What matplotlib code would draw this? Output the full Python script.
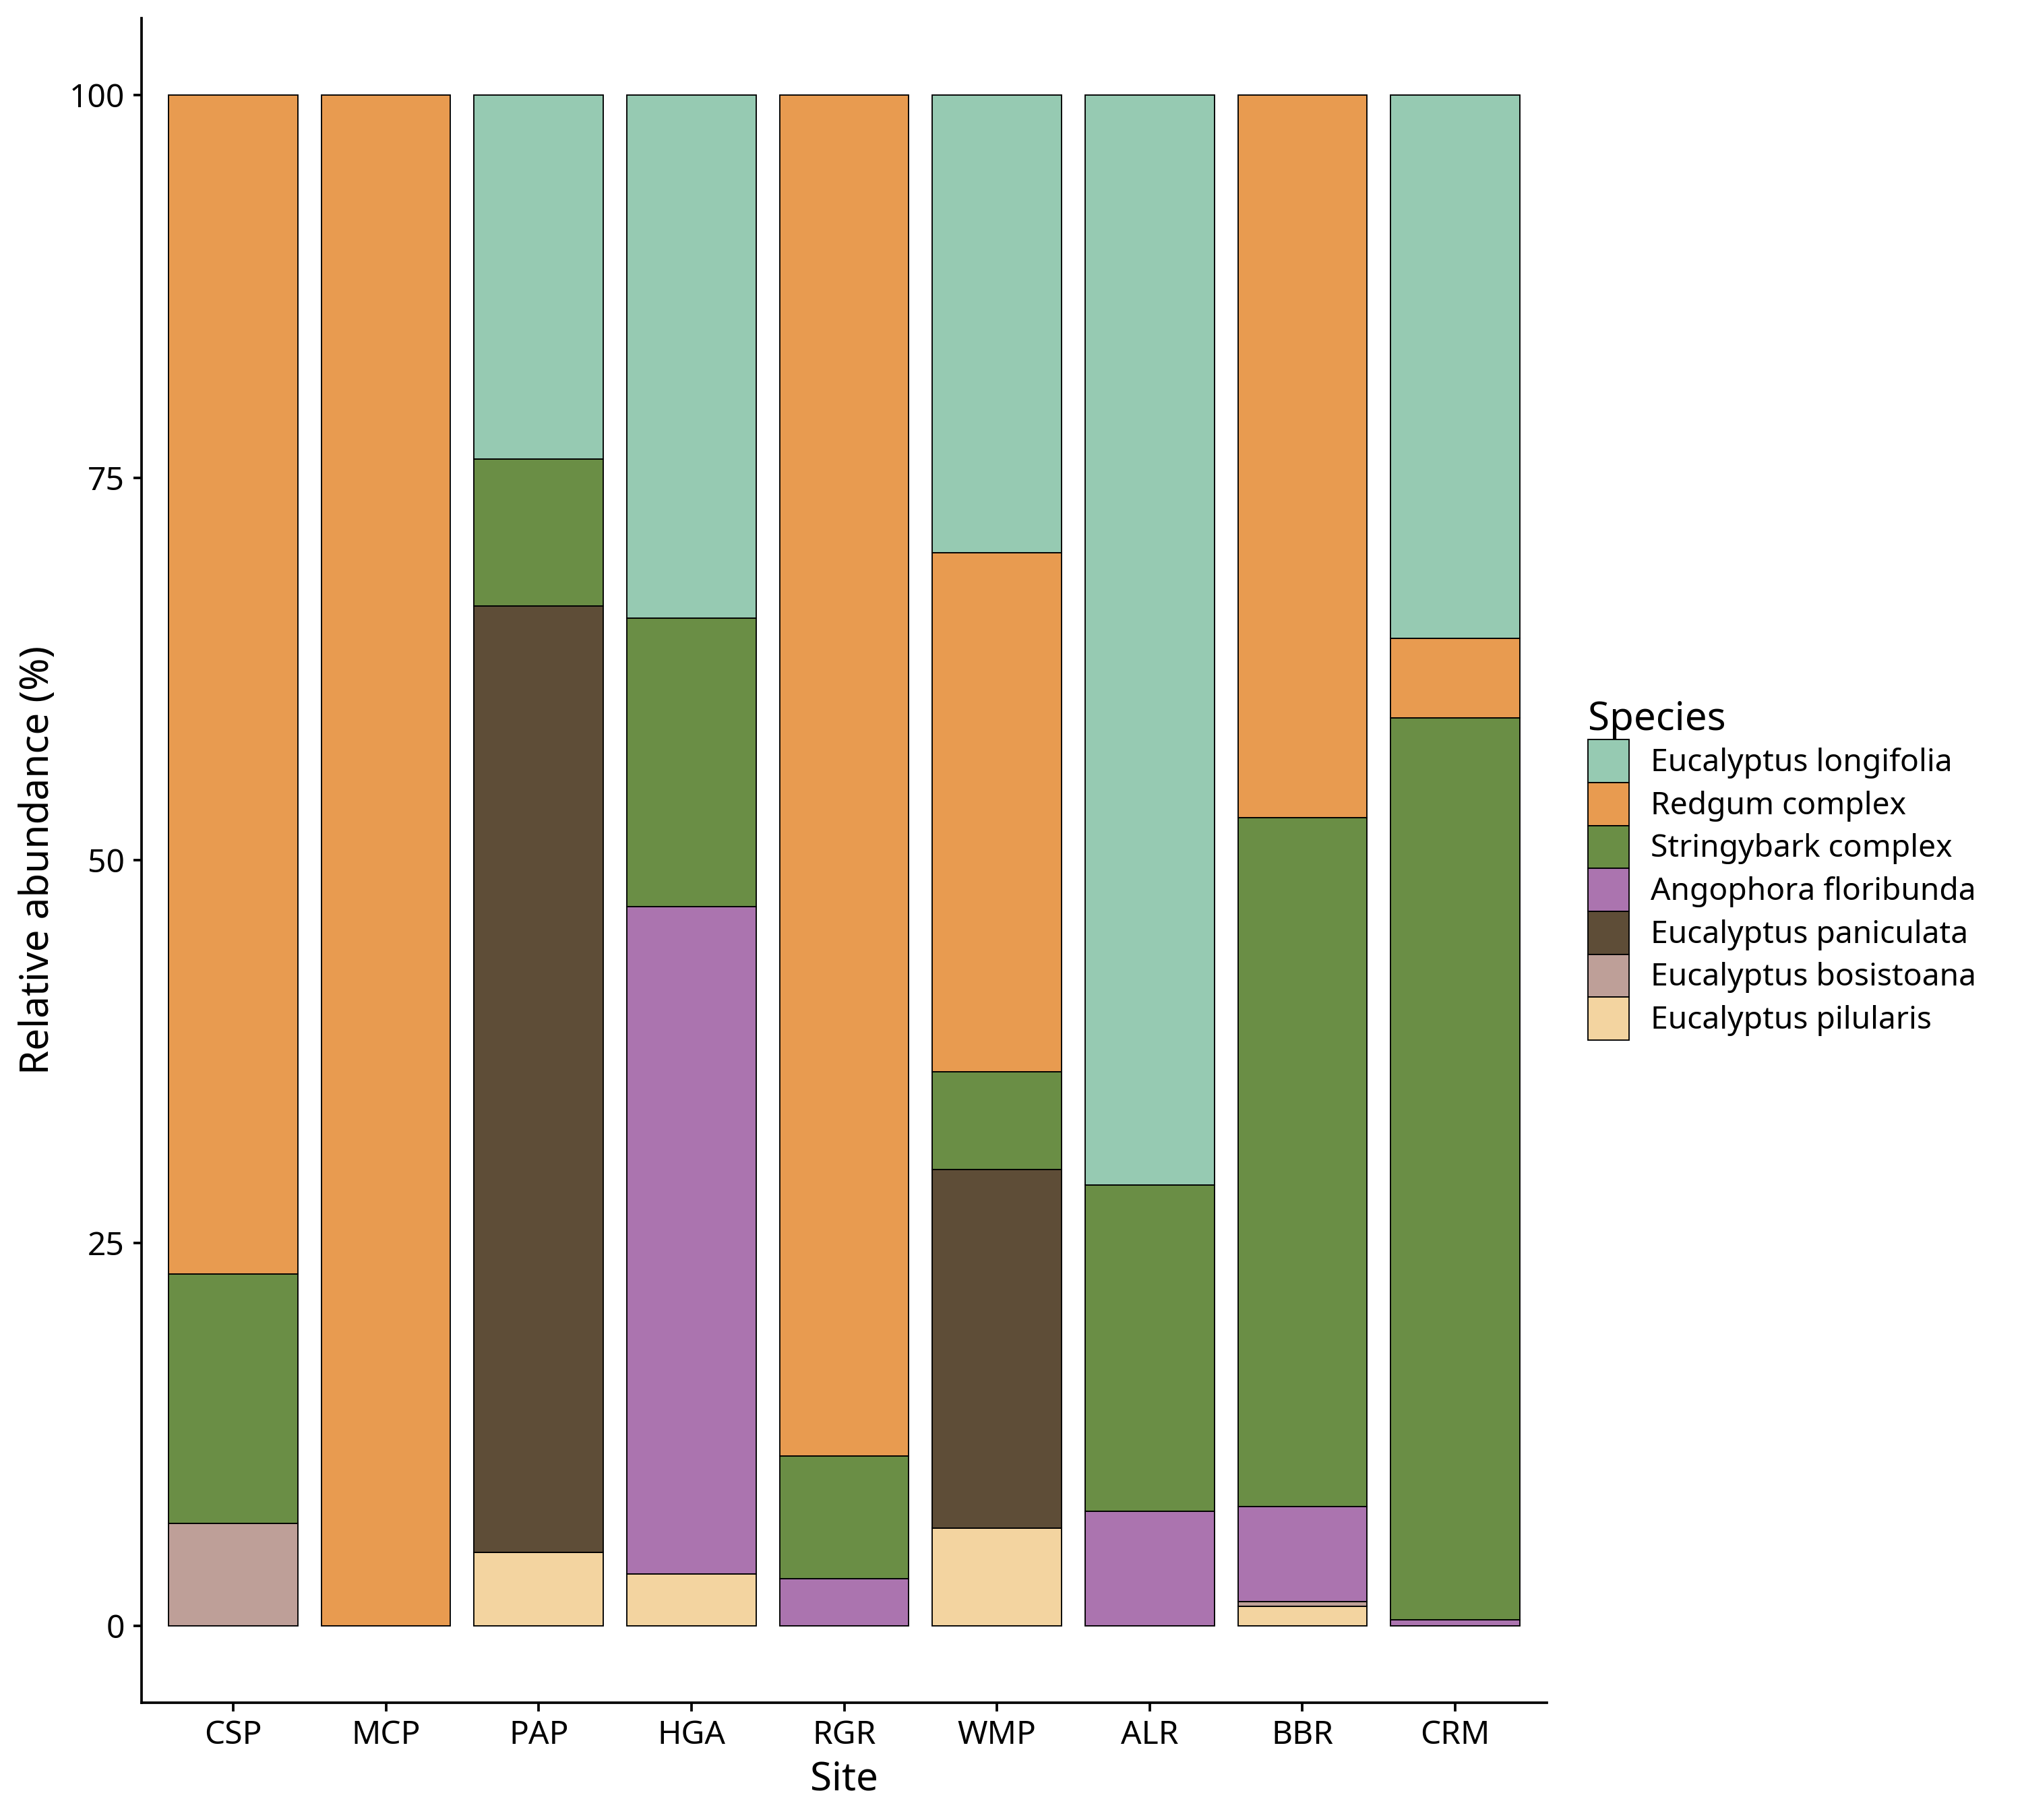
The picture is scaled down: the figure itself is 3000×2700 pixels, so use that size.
import matplotlib
matplotlib.use('Agg')
import matplotlib.pyplot as plt
import numpy as np
from matplotlib.patches import Patch

plt.rcParams['font.family'] = ['Noto Sans', 'DejaVu Sans']

# Sites along the x axis
sites = ['CSP', 'MCP', 'PAP', 'HGA', 'RGR', 'WMP', 'ALR', 'BBR', 'CRM']

# Relative abundance (%) per species, stacked from bottom to top
pilularis = [0, 0, 4.8, 3.4, 0, 6.4, 0, 1.3, 0]
bosistoana = [6.7, 0, 0, 0, 0, 0, 0, 0.3, 0]
paniculata = [0, 0, 61.8, 0, 0, 23.4, 0, 0, 0]
angophora = [0, 0, 0, 43.6, 3.1, 0, 7.5, 6.2, 0.4]
stringybark = [16.3, 0, 9.6, 18.8, 8.0, 6.4, 21.3, 45.0, 58.9]
redgum = [77.0, 100, 0, 0, 88.9, 33.9, 0, 47.2, 5.2]
longifolia = [0, 0, 23.8, 34.2, 0, 29.9, 71.2, 0, 35.5]

# (label, values, colour) in stacking order
species = [
    ('Eucalyptus pilularis', pilularis, '#F3D4A0'),
    ('Eucalyptus bosistoana', bosistoana, '#BE9F98'),
    ('Eucalyptus paniculata', paniculata, '#5E4D37'),
    ('Angophora floribunda', angophora, '#AB74AF'),
    ('Stringybark complex', stringybark, '#6A8E45'),
    ('Redgum complex', redgum, '#E89B50'),
    ('Eucalyptus longifolia', longifolia, '#96CAB2'),
]

fig = plt.figure(figsize=(10, 9), dpi=300)
ax = fig.add_axes([0.070, 0.0645, 0.695, 0.9255])

x = np.arange(len(sites))
bottom = np.zeros(len(sites))
for label, vals, color in species:
    vals = np.array(vals, dtype=float)
    m = vals > 0
    ax.bar(x[m], vals[m], bottom=bottom[m], width=0.845, color=color,
           edgecolor='black', linewidth=0.45, zorder=2)
    bottom += vals

ax.set_xlim(-0.6, len(sites) - 0.4)
ax.set_ylim(-5, 105)
ax.set_xticks(x)
ax.set_xticklabels(sites)
ax.set_yticks([0, 25, 50, 75, 100])

for s in ['top', 'right']:
    ax.spines[s].set_visible(False)
for s in ['left', 'bottom']:
    ax.spines[s].set_linewidth(0.9)
ax.tick_params(axis='both', length=3, width=0.9, labelsize=11.5, colors='black', pad=3)

ax.set_xlabel('Site', fontsize=14, labelpad=3)
ax.set_ylabel('Relative abundance (%)', fontsize=14, labelpad=4)

# Legend (top to bottom = reverse stacking)
handles = [Patch(facecolor=c, edgecolor='black', linewidth=0.45, label=l)
           for l, _, c in species[::-1]]
leg = fig.legend(handles=handles, title='Species', loc='center left',
                 bbox_to_anchor=(0.773, 0.522), frameon=False, fontsize=11.1,
                 title_fontsize=14, labelspacing=0.0, handlelength=1.31,
                 handleheight=1.74, handletextpad=0.7, borderaxespad=0,
                 borderpad=0.8, alignment='left')

fig.savefig('out.png', dpi=300)
